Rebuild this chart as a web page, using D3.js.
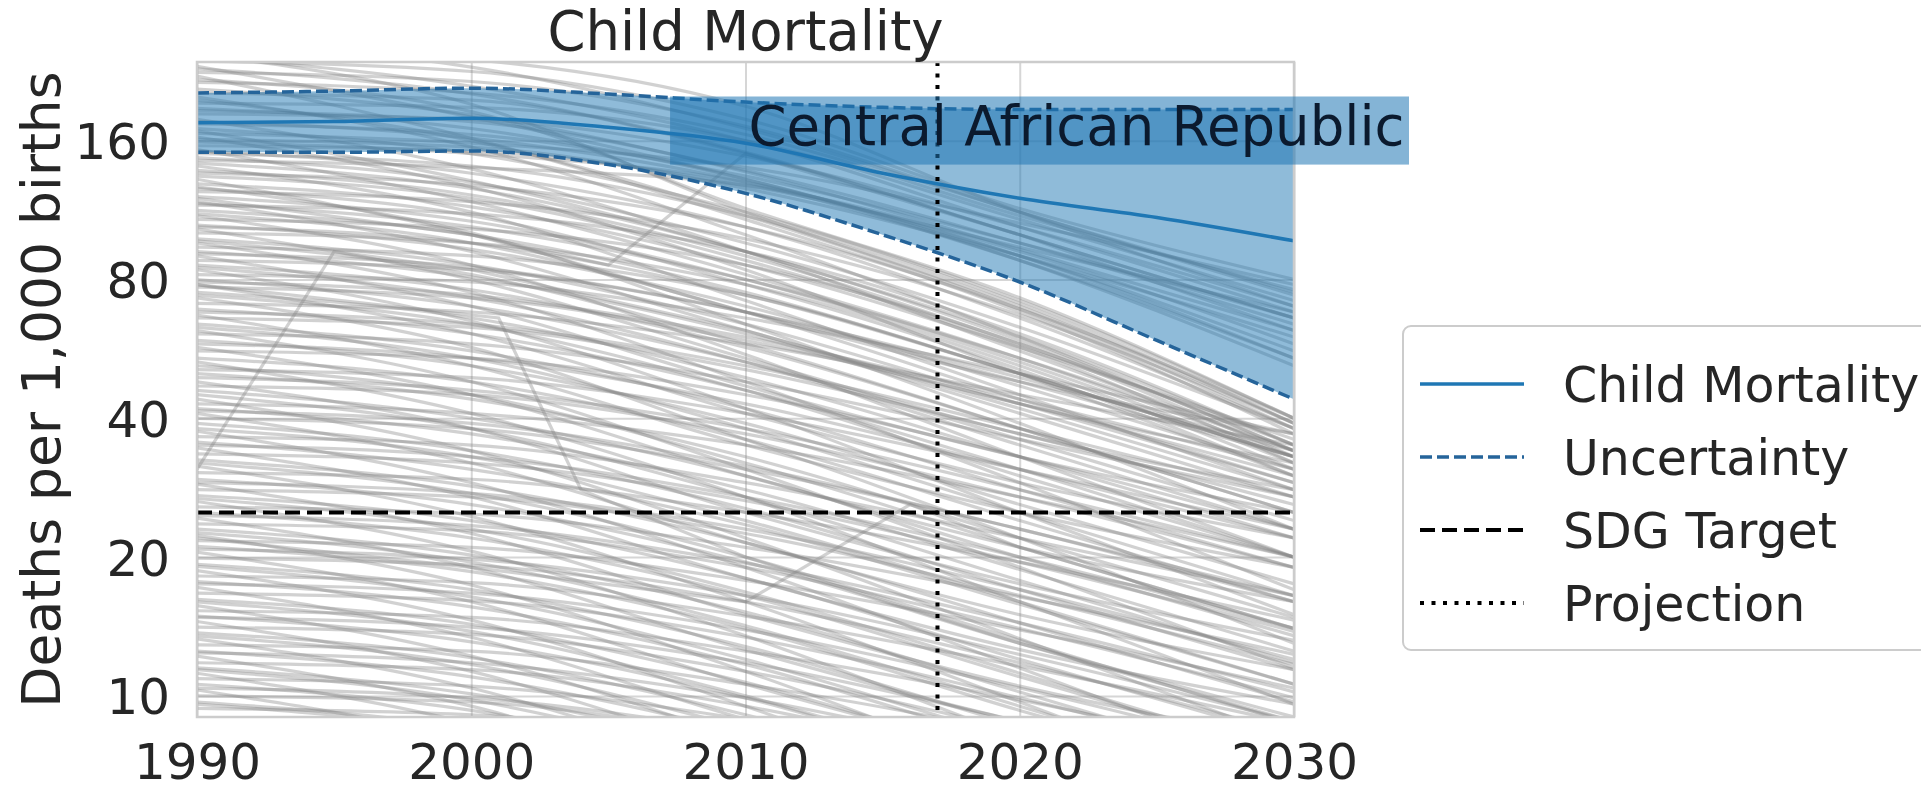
<!DOCTYPE html>
<html>
<head>
<meta charset="utf-8">
<script src="https://cdn.jsdelivr.net/npm/d3@7"></script>
<style>
  html, body { margin: 0; padding: 0; background: #ffffff; }
  svg { display: block; font-family: "DejaVu Sans", "Noto Sans", sans-serif; }
</style>
</head>
<body>
<svg id="chart" width="1921" height="792"></svg>
<script>
// ---- data ---------------------------------------------------------------
// Under-5 deaths per 1,000 live births, every country, sampled each decade
const years = [1990, 2000, 2010, 2020, 2030];
const countryLines = [
  [262, 231, 170, 112, 75], [247, 192, 112, 70, 39], [238, 226, 178, 114, 80],
  [229, 202, 151, 100, 66], [221, 162, 108, 68, 37], [214, 203, 165, 110, 76],
  [207, 182, 137, 93, 62], [199, 155, 100, 60, 34], [193, 189, 160, 108, 72],
  [188, 170, 132, 88, 52], [183, 178, 148, 104, 70], [178, 139, 92, 56, 34],
  [174, 165, 134, 96, 66], [170, 150, 112, 72, 40], [166, 158, 140, 106, 78],
  [163, 127, 84, 50, 30], [159, 150, 130, 90, 56], [156, 152, 128, 94, 68],
  [153, 118, 82, 54, 33], [150, 141, 110, 71, 39],
  [147, 130, 96, 63, 38], [145, 140, 128, 92, 58], [141, 112, 72, 45, 28],
  [138, 122, 90, 58, 35], [136, 128, 104, 69, 40], [132, 100, 68, 48, 37],
  [129, 115, 86, 57, 36], [127, 101, 64, 39, 23], [124, 118, 98, 67, 39],
  [121, 107, 80, 53, 32], [118, 92, 62, 43, 32], [116, 111, 92, 61, 35],
  [113, 100, 75, 50, 33], [110, 86, 55, 33, 20], [108, 103, 86, 58, 33],
  [105, 93, 70, 47, 31], [103, 80, 54, 37, 28], [101, 96, 78, 52, 31],
  [98, 86, 64, 43, 29], [96, 75, 48, 29, 17], [94, 90, 74, 50, 33],
  [92, 81, 61, 41, 27], [90, 70, 47, 33, 25], [88, 84, 68, 49, 34],
  [86, 76, 57, 38, 25], [84, 65, 42, 25, 15], [82, 79, 66, 50, 37],
  [80, 70, 53, 36, 24], [78, 61, 41, 29, 22], [77, 73, 59, 43, 30],
  [75, 66, 49, 33, 22], [73, 57, 36, 22, 13], [71, 68, 58, 45, 35],
  [69, 61, 46, 31, 20], [67, 52, 35, 25, 19], [66, 63, 51, 37, 26],
  [64, 56, 42, 28, 19], [62, 48, 31, 19, 11.5], [61, 58, 48, 36, 27],
  [59, 52, 39, 26, 17.5], [57, 45, 30, 21, 16], [56, 54, 45, 33, 23],
  [54, 48, 36, 24, 16], [53, 41, 27, 16, 9.6], [51, 49, 41, 31, 23],
  [50, 44, 33, 22, 14.8], [48, 38, 25, 17.5, 13.2], [47, 45, 37, 27, 19],
  [46, 40, 30, 20, 13.5], [44, 34, 22, 13.3, 8], [43, 41, 35, 27, 20],
  [42, 37, 28, 18.8, 12.5], [41, 32, 21.5, 15, 11.4], [40, 38, 31, 23, 16],
  [39, 34, 25.5, 17, 11.4], [37.5, 29, 19, 11.5, 6.9], [36.5, 35, 29, 22, 16.5],
  [35.5, 31, 23.5, 15.8, 10.6], [34.5, 27, 18, 12.6, 9.6], [33.5, 32, 26.5, 19.5, 13.8],
  [32.5, 28.5, 21.5, 14.4, 9.7], [31.5, 24.5, 16, 9.7, 5.8], [30.5, 29.5, 25, 19.5, 14.6],
  [29.5, 26, 19.5, 13, 8.8], [28.8, 22.5, 15, 10.5, 8], [28, 27, 22.5, 16.5, 11.7],
  [27.2, 24, 18, 12, 8.1], [26.4, 20.6, 13.5, 8.1, 4.9], [25.7, 24.8, 21, 16.4, 12.3],
  [25, 22, 16.5, 11, 7.4], [24.3, 19, 12.6, 8.8, 6.7], [23.6, 22.8, 19, 14, 9.9],
  [23, 20.2, 15.2, 10.2, 6.8], [22.3, 17.4, 11.3, 6.8, 4.1], [21.7, 21, 17.8, 13.9, 10.4],
  [21.1, 18.6, 14, 9.3, 6.3], [20.5, 16, 10.6, 7.4, 5.6], [19.9, 19.2, 16, 11.8, 8.3],
  [19.3, 17, 12.8, 8.6, 5.8], [18.7, 14.6, 9.5, 5.7, 3.4], [18.2, 17.6, 14.9, 11.6, 8.7],
  [17.7, 15.6, 11.7, 7.8, 5.3], [17.2, 13.4, 8.9, 6.2, 4.7], [16.7, 16.1, 13.4, 9.9, 7],
  [16.2, 14.3, 10.7, 7.2, 4.8], [15.7, 12.2, 8, 4.8, 2.9], [15.3, 14.8, 12.5, 9.8, 7.3],
  [14.9, 13.1, 9.9, 6.6, 4.4], [14.5, 11.3, 7.5, 5.3, 4], [14.1, 13.6, 11.3, 8.4, 5.9],
  [13.7, 12.1, 9.1, 6.1, 4.1], [13.3, 10.4, 6.8, 4.1, 2.5], [12.9, 12.5, 10.6, 8.3, 6.2],
  [12.5, 11, 8.3, 5.6, 3.7], [12.2, 9.5, 6.3, 4.4, 3.3], [11.8, 11.4, 9.5, 7, 5],
  [11.5, 10.1, 7.6, 5.1, 3.4], [11.2, 8.7, 5.7, 3.4, 2.1], [10.9, 10.5, 8.9, 7, 5.2],
  [10.6, 9.3, 7, 4.7, 3.2], [10.3, 8, 5.3, 3.7, 2.8], [10, 9.7, 8.1, 6, 4.2],
  [9.7, 8.5, 6.4, 4.3, 2.9], [9.4, 9.1, 7.7, 6, 4.5],
  [255, 240, 190, 112, 70], [244, 210, 160, 104, 68], [232, 180, 132, 90, 54],
  [225, 215, 172, 112, 74], [217, 185, 114, 73, 40], [203, 196, 150, 100, 66],
  [196, 160, 110, 69, 38], [186, 176, 138, 96, 64], [176, 162, 130, 88, 54],
  [168, 131, 92, 60, 35], [161, 155, 126, 90, 60], [152, 136, 104, 66, 38],
  [143, 126, 92, 59, 34], [134, 120, 88, 57, 32], [126, 110, 78, 51, 30],
  [117, 104, 80, 54, 34], [111, 96, 68, 44, 29], [104, 96, 74, 50, 33],
  [97, 82, 58, 38, 25], [91, 85, 68, 48, 33], [85, 73, 53, 35, 23],
  [79, 74, 60, 44, 31], [74, 64, 46, 30, 20], [68, 64, 52, 38, 27],
  [63, 54, 38, 25, 16.5], [58, 54, 43, 31, 22], [52, 45, 32, 21, 14],
  [49, 46, 38, 28, 20], [45, 38, 27, 17.8, 11.8], [41.5, 39, 31.5, 23, 16.5],
  [38, 33, 24, 16, 10.6], [35, 33, 27, 20, 14], [32, 27.5, 20, 13.2, 8.7],
  [29, 27.5, 23, 17, 12], [26.8, 23, 16.8, 11.2, 7.4], [24.6, 23.4, 19.4, 14.4, 10.2],
  [22.6, 19.5, 14.2, 9.5, 6.3], [20.8, 19.8, 16.5, 12.3, 8.8], [19.1, 16.4, 12, 8, 5.3],
  [17.5, 16.7, 13.9, 10.4, 7.4], [16, 13.8, 10, 6.7, 4.4], [14.8, 14.1, 11.8, 8.8, 6.3],
  [13.5, 11.7, 8.5, 5.7, 3.8], [12.4, 11.8, 9.9, 7.4, 5.3], [11.4, 9.8, 7.1, 4.8, 3.2],
  [10.4, 9.9, 8.3, 6.2, 4.4], [9.6, 8.3, 6, 4, 2.7]
];
// Series with breaks in the record, given as [year, value] pairs
const irregularLines = [
  [[1990, 31], [1995, 92], [2000, 84], [2010, 62], [2020, 42], [2030, 28]],
  [[1990, 120], [2000, 100], [2005, 86], [2010, 150], [2020, 100], [2030, 62]],
  [[1990, 78], [2000, 67], [2001, 66], [2004, 28], [2010, 20], [2020, 13], [2030, 9]],
  [[1990, 22], [2000, 19], [2010, 16], [2016, 26], [2020, 21], [2030, 14]]
];

// Highlighted country with its uncertainty interval
const countryName = "Central African Republic";
const carYears = [1990, 1995, 2000, 2005, 2010, 2015, 2020, 2025, 2030];
const carMean  = [175, 176, 179, 171, 158, 136, 120, 109, 97];
const carUpper = [203, 205, 208, 202, 194, 189, 187, 187, 187];
const carLower = [151, 151, 152, 142, 123, 100, 79, 59, 44];

const sdgTarget = 25;
const projectionYear = 2017;
const xTicks = [1990, 2000, 2010, 2020, 2030];
const yTicks = [10, 20, 40, 80, 160];
const legendLabels = ["Child Mortality", "Uncertainty", "SDG Target", "Projection"];

// ---- layout -------------------------------------------------------------
const plot = { left: 197, right: 1294, top: 62, bottom: 717 };
const C0 = "#1f77b4";
const textColor = "#262626";

const svg = d3.select("#chart");
svg.append("rect").attr("width", 1921).attr("height", 792).attr("fill", "#fff");

const x = d3.scaleLinear().domain([1990, 2030]).range([plot.left, plot.right]);
const y = d3.scaleLog().base(2).domain([9.0, 237]).range([plot.bottom, plot.top]);

svg.append("defs").append("clipPath").attr("id", "plotClip")
  .append("rect")
  .attr("x", plot.left).attr("y", plot.top)
  .attr("width", plot.right - plot.left).attr("height", plot.bottom - plot.top);

// grid + tick labels through d3 axes
const xAxis = svg.append("g")
  .attr("transform", `translate(0,${plot.bottom})`)
  .call(d3.axisBottom(x).tickValues(xTicks).tickFormat(d3.format("d"))
    .tickSize(-(plot.bottom - plot.top)).tickPadding(26));
const yAxis = svg.append("g")
  .attr("transform", `translate(${plot.left},0)`)
  .call(d3.axisLeft(y).tickValues(yTicks).tickFormat(d3.format("d"))
    .tickSize(-(plot.right - plot.left)).tickPadding(27));
[xAxis, yAxis].forEach(g => {
  g.select(".domain").remove();
  g.selectAll(".tick line").attr("stroke", "#d6d6d6").attr("stroke-width", 2);
  g.selectAll(".tick text").attr("fill", textColor)
    .attr("font-size", 50).attr("font-family", "DejaVu Sans");
});
xAxis.selectAll(".tick text").attr("dy", "0.71em");
yAxis.selectAll(".tick text").attr("dy", "0.36em");

const clipped = svg.append("g").attr("clip-path", "url(#plotClip)");

// every country in grey
const line = d3.line().x(d => x(d[0])).y(d => y(d[1])).curve(d3.curveMonotoneX);
const greyG = clipped.append("g")
  .attr("fill", "none").attr("stroke", "#868686").attr("stroke-opacity", 0.38)
  .attr("stroke-width", 3.2);
greyG.selectAll("path.country")
  .data(countryLines.map(vals => vals.map((v, i) => [years[i], v])))
  .join("path").attr("class", "country").attr("d", line);
greyG.selectAll("path.irregular")
  .data(irregularLines)
  .join("path").attr("class", "irregular")
  .attr("d", d3.line().x(d => x(d[0])).y(d => y(d[1])));

// highlighted country: uncertainty band, bounds, central estimate
const carRows = carYears.map((yr, i) => ({ yr, mean: carMean[i], lo: carLower[i], hi: carUpper[i] }));
clipped.append("path").datum(carRows)
  .attr("fill", C0).attr("fill-opacity", 0.5)
  .attr("d", d3.area().x(d => x(d.yr)).y0(d => y(d.lo)).y1(d => y(d.hi)).curve(d3.curveMonotoneX));
["lo", "hi"].forEach(k => {
  clipped.append("path").datum(carRows)
    .attr("fill", "none").attr("stroke", "#25649a").attr("stroke-width", 3.5)
    .attr("stroke-dasharray", "12,5")
    .attr("d", d3.line().x(d => x(d.yr)).y(d => y(d[k])).curve(d3.curveMonotoneX));
});
clipped.append("path").datum(carRows)
  .attr("fill", "none").attr("stroke", C0).attr("stroke-width", 3.5)
  .attr("d", d3.line().x(d => x(d.yr)).y(d => y(d.mean)).curve(d3.curveMonotoneX));

// SDG target and the start of the projection period
clipped.append("line")
  .attr("x1", x(1990)).attr("x2", x(2030)).attr("y1", y(sdgTarget)).attr("y2", y(sdgTarget))
  .attr("stroke", "#000").attr("stroke-width", 4).attr("stroke-dasharray", "15,7");
clipped.append("line")
  .attr("x1", x(projectionYear)).attr("x2", x(projectionYear))
  .attr("y1", plot.top).attr("y2", plot.bottom)
  .attr("stroke", "#000").attr("stroke-width", 4).attr("stroke-dasharray", "4,7.5");

// plot frame
svg.append("rect")
  .attr("x", plot.left).attr("y", plot.top)
  .attr("width", plot.right - plot.left).attr("height", plot.bottom - plot.top)
  .attr("fill", "none").attr("stroke", "#cccccc").attr("stroke-width", 2.5);

// country name tag
const tagLeft = x(2007.25), tagRight = x(2030) + 115;
const tagTop = y(199.5), tagBottom = y(142);
svg.append("rect")
  .attr("x", tagLeft).attr("y", tagTop)
  .attr("width", tagRight - tagLeft).attr("height", tagBottom - tagTop)
  .attr("fill", C0).attr("fill-opacity", 0.55);
svg.append("text")
  .attr("x", x(2010) + 3).attr("y", tagBottom - 20)
  .attr("font-size", 54.5).attr("fill", "#0b1a2e")
  .text(countryName);

// title and y label
svg.append("text")
  .attr("x", (plot.left + plot.right) / 2).attr("y", 50)
  .attr("text-anchor", "middle").attr("font-size", 54.5).attr("fill", textColor)
  .text("Child Mortality");
svg.append("text")
  .attr("transform", `translate(60,${(plot.top + plot.bottom) / 2}) rotate(-90)`)
  .attr("text-anchor", "middle").attr("font-size", 53.5).attr("fill", textColor)
  .text("Deaths per 1,000 births");

// legend
const legend = svg.append("g");
legend.append("rect")
  .attr("x", 1403).attr("y", 326).attr("width", 560).attr("height", 324)
  .attr("rx", 8).attr("fill", "#fff").attr("fill-opacity", 0.8)
  .attr("stroke", "#cccccc").attr("stroke-width", 2);
const legendStyles = [
  { stroke: C0, dash: null, w: 3.5 },
  { stroke: "#25649a", dash: "12,5", w: 3.5 },
  { stroke: "#000", dash: "15,7", w: 4 },
  { stroke: "#000", dash: "4,7.5", w: 4 }
];
const rowY = d3.scalePoint().domain(legendLabels).range([384, 603]);
legendLabels.forEach((lab, i) => {
  const s = legendStyles[i];
  const ly = rowY(lab);
  legend.append("line")
    .attr("x1", 1420).attr("x2", 1524).attr("y1", ly).attr("y2", ly)
    .attr("stroke", s.stroke).attr("stroke-width", s.w)
    .attr("stroke-dasharray", s.dash);
  legend.append("text")
    .attr("x", 1563).attr("y", ly).attr("dy", "0.36em")
    .attr("font-size", 49).attr("fill", textColor).text(lab);
});
</script>
</body>
</html>
